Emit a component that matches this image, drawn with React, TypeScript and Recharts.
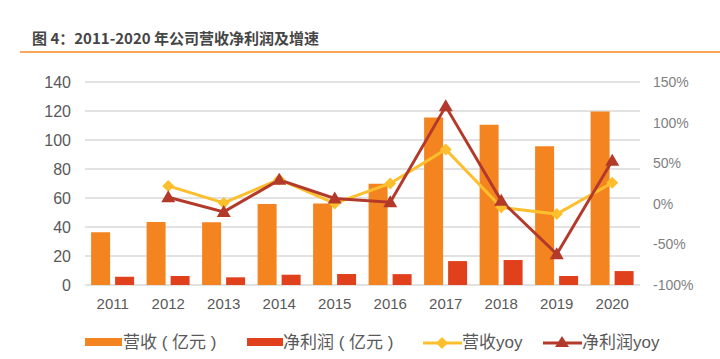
import React from "react";
import {
  ComposedChart,
  Bar,
  Line,
  XAxis,
  YAxis,
  CartesianGrid,
} from "recharts";

const years = ["2011", "2012", "2013", "2014", "2015", "2016", "2017", "2018", "2019", "2020"];
const revenue = [36.3, 43.4, 43.2, 55.8, 56.2, 69.8, 115.5, 110.6, 95.7, 119.6];
const netProfit = [5.7, 6.2, 5.3, 7.1, 7.6, 7.5, 16.5, 17.2, 6.2, 9.6];
const revenueYoy: (number | null)[] = [null, 22, 1, 30, 0.5, 25, 67, -4.4, -12.7, 26];
const netYoy: (number | null)[] = [null, 8, -10, 29.5, 6.6, 2, 120, 3.7, -62, 53];
const leftTicks = [0, 20, 40, 60, 80, 100, 120, 140];
const rightTicks = [-100, -50, 0, 50, 100, 150];

const C_REV = "#F4841F";
const C_NET = "#E0401B";
const C_REVYOY = "#FDBF2D";
const C_NETYOY = "#B33A2A";
const FONT = "'Liberation Sans', Arial, 'Noto Sans CJK SC', sans-serif";
const CJK = "'Noto Sans CJK SC', 'Liberation Sans', sans-serif";
const LEG = "'Liberation Sans', 'Noto Sans CJK SC', sans-serif";

const data = years.map((y, i) => ({
  year: y,
  revenue: revenue[i],
  net: netProfit[i],
  revYoy: revenueYoy[i],
  netYoy: netYoy[i],
}));

const Diamond = (props: any) => {
  const { cx, cy, payload } = props;
  if (cx == null || cy == null || payload?.revYoy == null) return null;
  const r = 6;
  return (
    <path
      d={`M${cx},${cy - r} L${cx + r},${cy} L${cx},${cy + r} L${cx - r},${cy} Z`}
      fill={C_REVYOY}
    />
  );
};

const Triangle = (props: any) => {
  const { cx, cy, payload } = props;
  if (cx == null || cy == null || payload?.netYoy == null) return null;
  const w = 7;
  return (
    <path
      d={`M${cx},${cy - 7} L${cx + w},${cy + 5} L${cx - w},${cy + 5} Z`}
      fill={C_NETYOY}
    />
  );
};

const legendText: React.CSSProperties = {
  position: "absolute",
  top: 332,
  fontFamily: LEG,
  fontSize: 17,
  color: "#595959",
  lineHeight: "22px",
  whiteSpace: "pre",
};

export default function App() {
  return (
    <div style={{ position: "absolute", left: 0, top: 0, width: 720, height: 359, background: "#fff", overflow: "hidden" }}>
      <div
        style={{
          position: "absolute",
          left: 32,
          top: 28,
          fontFamily: CJK,
          fontWeight: 700,
          fontSize: 15,
          color: "#454545",
          lineHeight: "20px",
          whiteSpace: "nowrap",
        }}
      >
        图 4：2011-2020 年公司营收净利润及增速
      </div>
      <div style={{ position: "absolute", left: 20, top: 51, width: 700, height: 2, background: "#F9A65A" }} />

      <ComposedChart
        width={720}
        height={359}
        data={data}
        margin={{ top: 82, right: 0, bottom: 0, left: 0 }}
        barCategoryGap="11%"
        barGap={5}
      >
        <CartesianGrid yAxisId="left" vertical={false} stroke="#D9D9D9" strokeWidth={1.5} />
        <XAxis
          dataKey="year"
          height={74}
          axisLine={false}
          tickLine={false}
          tickSize={0}
          tickMargin={13}
          tick={{ fill: "#595959", fontSize: 15, fontFamily: FONT }}
          interval={0}
        />
        <YAxis
          yAxisId="left"
          width={85}
          domain={[0, 140]}
          ticks={leftTicks}
          axisLine={false}
          tickLine={false}
          tickSize={0}
          tickMargin={14}
          tick={{ fill: "#595959", fontSize: 16, fontFamily: FONT }}
        />
        <YAxis
          yAxisId="right"
          orientation="right"
          width={80}
          domain={[-100, 150]}
          ticks={rightTicks}
          axisLine={false}
          tickLine={false}
          tickSize={0}
          tickMargin={13}
          tickFormatter={(v: number) => `${v}%`}
          tick={{ fill: "#7F7F7F", fontSize: 14, fontFamily: FONT, textAnchor: "start" }}
        />
        <Bar yAxisId="left" dataKey="revenue" fill={C_REV} isAnimationActive={false} />
        <Bar yAxisId="left" dataKey="net" fill={C_NET} isAnimationActive={false} />
        <Line
          yAxisId="right"
          dataKey="revYoy"
          stroke={C_REVYOY}
          strokeWidth={3}
          dot={<Diamond />}
          activeDot={false}
          isAnimationActive={false}
        />
        <Line
          yAxisId="right"
          dataKey="netYoy"
          stroke={C_NETYOY}
          strokeWidth={3}
          dot={<Triangle />}
          activeDot={false}
          isAnimationActive={false}
        />
      </ComposedChart>

      <div style={{ position: "absolute", left: 85, top: 338, width: 37, height: 8, background: C_REV }} />
      <div style={{ ...legendText, left: 123 }}>营收 ( 亿元 )</div>
      <div style={{ position: "absolute", left: 247, top: 338, width: 36, height: 8, background: C_NET }} />
      <div style={{ ...legendText, left: 283 }}>净利润 ( 亿元 )</div>
      <svg style={{ position: "absolute", left: 423, top: 335 }} width={40} height={16}>
        <line x1={0} y1={8} x2={39} y2={8} stroke={C_REVYOY} strokeWidth={3} />
        <path d="M19,2 L25,8 L19,14 L13,8 Z" fill={C_REVYOY} />
      </svg>
      <div style={{ ...legendText, left: 462 }}>营收yoy</div>
      <svg style={{ position: "absolute", left: 543, top: 335 }} width={40} height={16}>
        <line x1={0} y1={8} x2={39} y2={8} stroke={C_NETYOY} strokeWidth={3} />
        <path d="M19,1 L26,12 L12,12 Z" fill={C_NETYOY} />
      </svg>
      <div style={{ ...legendText, left: 582 }}>净利润yoy</div>
    </div>
  );
}
